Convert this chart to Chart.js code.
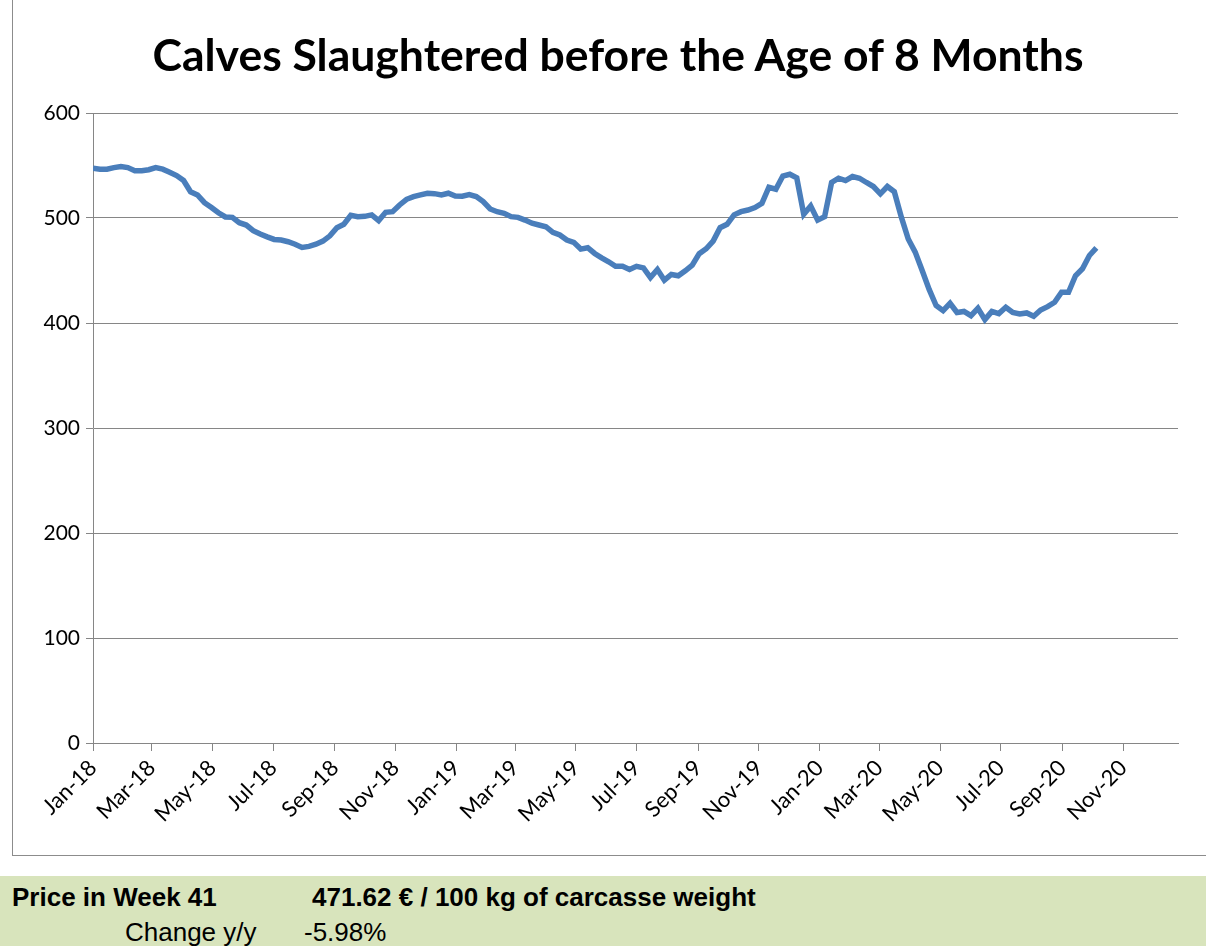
<!DOCTYPE html>
<html>
<head>
<meta charset="utf-8">
<title>Calves Slaughtered before the Age of 8 Months</title>
<script src="https://cdn.jsdelivr.net/npm/chart.js@4.4.1/dist/chart.umd.min.js"></script>
<style>
  html, body { margin: 0; padding: 0; background: #fff; }
  body { width: 1206px; height: 946px; position: relative; overflow: hidden; }
  #frame {
    position: absolute; left: 12px; top: -1px; width: 1210px; height: 857px;
    border: 1px solid #8c8c8c; box-sizing: border-box;
  }
  #chart { position: absolute; left: 0; top: 0; }
  #title {
    position: absolute; left: 0; width: 1236px; top: 27px; text-align: center;
    font-family: Lato, "Open Sans", sans-serif; font-weight: bold; font-size: 44.5px; color: #000;
  }
  #info {
    position: absolute; left: 0; top: 876px; width: 1206px; height: 70px; background: #d8e4bc;
    font-family: "Liberation Sans", Arial, sans-serif; font-size: 26px; color: #000;
  }
  #info span { position: absolute; white-space: nowrap; }
</style>
</head>
<body>
<div id="frame"></div>
<canvas id="chart" width="1206" height="858"></canvas>
<div id="title">Calves Slaughtered before the Age of 8 Months</div>
<div id="info">
  <span style="left:12px; top:6px; font-weight:bold;">Price in Week 41</span>
  <span style="left:312px; top:6px; font-weight:bold;">471.62 € / 100 kg of carcasse weight</span>
  <span style="left:125px; top:41px;">Change y/y</span>
  <span style="left:304px; top:41px;">-5.98%</span>
</div>
<script>
// weekly prices, € / 100 kg carcass weight (ISO weeks)
const prices2018 = [
  547.5, 546.5, 546.5, 548, 549, 548, 545, 545, 546, 548,
  546.5, 543.6, 540.4, 535.7, 525, 522, 514.6, 510, 505, 501,
  500.6, 495.5, 493.3, 488, 484.7, 482, 479.6, 479, 477.4, 475,
  472, 473, 475, 478, 483, 490.8, 494, 502.5, 501.3, 501.6,
  503, 497.5, 505.4, 506, 512.4, 517.8, 520.4, 522, 523.6, 523.2,
  522, 523.6
];
const prices2019 = [
  521, 520.7, 522.3, 520.4, 515.6, 508.6, 506, 504.5, 501.3, 500.6,
  498, 495, 493.3, 491.7, 486.3, 483.8, 479, 476.8, 470.4, 471.7,
  466.2, 462, 458.3, 454, 454, 451, 454, 452.5, 443.3, 451,
  440.8, 446.2, 445, 449.7, 455, 466, 470.7, 478, 490.8, 494,
  503, 506, 507.6, 510, 514, 529.3, 527.4, 540, 541.7, 538.2,
  503.5, 511.5
];
const prices2020 = [
  498, 501.3, 533.8, 537.9, 535.7, 539.5, 537.9, 533.8, 530, 523,
  530, 525, 501, 480, 467.5, 450, 432, 416.6, 411.8, 418.8,
  410, 411, 407, 414, 403.2, 411, 409, 415, 410, 408.6,
  409.6, 406.4, 412.4, 415.6, 419.7, 429.3, 429.3, 445, 451.6, 464.3,
  471.62
];
const years = [2018, 2019, 2020];
const yearPrices = [prices2018, prices2019, prices2020];

// x axis labels, every second month
const tickLabels = ['Jan-18', 'Mar-18', 'May-18', 'Jul-18', 'Sep-18', 'Nov-18',
  'Jan-19', 'Mar-19', 'May-19', 'Jul-19', 'Sep-19', 'Nov-19',
  'Jan-20', 'Mar-20', 'May-20', 'Jul-20', 'Sep-20', 'Nov-20'];
const yTicks = [0, 100, 200, 300, 400, 500, 600];

const DAY = 86400000;
const origin = Date.UTC(2018, 0, 1);

// monday of an ISO week, as days since 1 Jan 2018
function weekDay(year, week) {
  const jan4 = Date.UTC(year, 0, 4);
  const dow = (new Date(jan4).getUTCDay() + 6) % 7;
  return (jan4 - dow * DAY + (week - 1) * 7 * DAY - origin) / DAY;
}

const points = [];
years.forEach((y, k) => {
  yearPrices[k].forEach((v, w) => points.push({ x: weekDay(y, w + 1), y: v }));
});

const tickDays = tickLabels.map((_, i) => (Date.UTC(2018, i * 2, 1) - origin) / DAY);

const axisGray = '#868686';
const fontFamily = 'Lato, "Open Sans", sans-serif';

new Chart(document.getElementById('chart').getContext('2d'), {
  type: 'line',
  data: {
    datasets: [{
      data: points,
      borderColor: '#4a7ebb',
      borderWidth: 5.5,
      pointRadius: 0,
      tension: 0,
      fill: false
    }]
  },
  options: {
    responsive: false,
    animation: false,
    layout: { padding: { left: 0, top: 113, right: 28, bottom: 15 } },
    plugins: { legend: { display: false }, tooltip: { enabled: false } },
    scales: {
      x: {
        type: 'linear',
        min: 0,
        max: 1090,
        afterBuildTicks: scale => { scale.ticks = tickDays.map(v => ({ value: v })); },
        afterFit: scale => { scale.height = 100; },
        ticks: {
          autoSkip: false,
          maxRotation: 45,
          minRotation: 45,
          color: '#000',
          font: { family: fontFamily, size: 22 },
          padding: 4,
          callback: (v, i) => tickLabels[i]
        },
        grid: { drawOnChartArea: false, drawTicks: true, tickLength: 8, color: axisGray },
        border: { color: axisGray }
      },
      y: {
        min: yTicks[0],
        max: yTicks[yTicks.length - 1],
        afterBuildTicks: scale => { scale.ticks = yTicks.map(v => ({ value: v })); },
        afterFit: scale => { scale.width = 93; },
        ticks: { color: '#000', font: { family: fontFamily, size: 21 }, padding: 6 },
        grid: { color: axisGray, tickLength: 7 },
        border: { color: axisGray }
      }
    }
  }
});
</script>
</body>
</html>
